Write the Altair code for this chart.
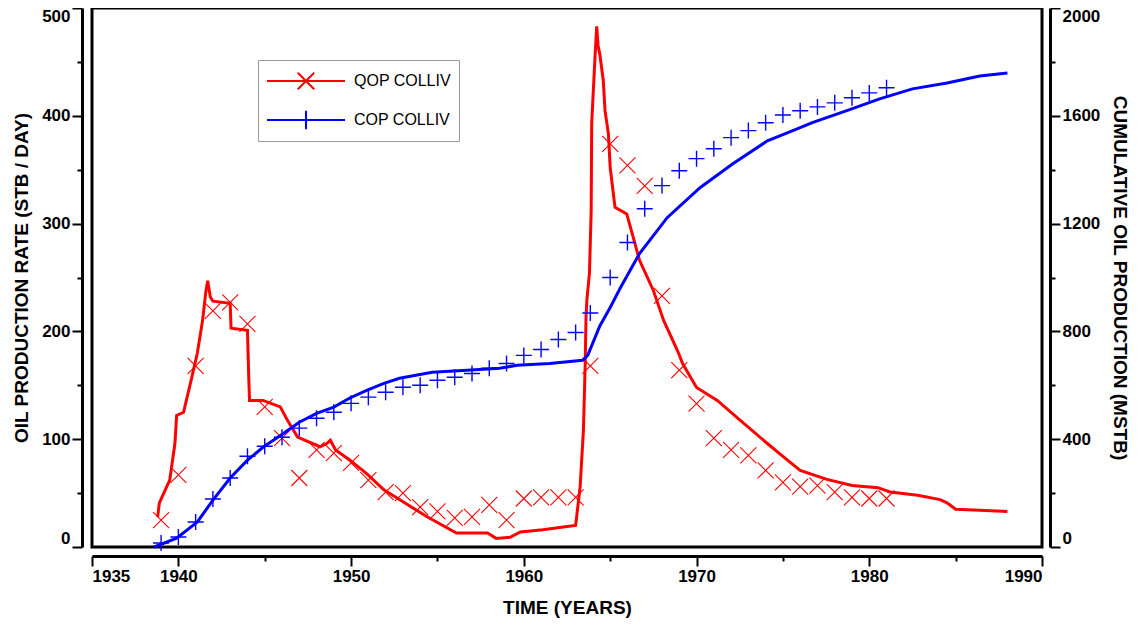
import altair as alt
import pandas as pd

# ---------------- data ----------------
# Simulated oil production rate (red line), STB/day
QOP_SIM_YEAR = [1938.8, 1938.9, 1939.5, 1939.8, 1939.9, 1940.3, 1940.7, 1941.1, 1941.4, 1941.6,
                1941.7, 1941.85, 1942.0, 1943.0, 1943.05, 1944.0, 1944.08, 1944.12, 1944.9, 1945.9,
                1946.3, 1946.9, 1948.2, 1948.6, 1948.8, 1949.1, 1949.9, 1950.9, 1951.9, 1952.8,
                1954.4, 1956.1, 1957.9, 1958.4, 1959.2, 1959.8, 1961.1, 1962.5, 1963.0, 1963.26,
                1963.45, 1963.55, 1963.6, 1963.65, 1963.8, 1963.9, 1963.93, 1964.03, 1964.12, 1964.22,
                1964.3, 1964.4, 1964.6, 1964.7, 1964.9, 1965.0, 1965.28, 1965.96, 1966.7, 1967.5,
                1968.1, 1968.9, 1969.2, 1970.0, 1971.2, 1972.5, 1974.1, 1975.0, 1976.0, 1977.5,
                1979.0, 1980.5, 1981.2, 1982.8, 1984.1, 1984.5, 1985.0, 1986.4, 1988.0]
QOP_SIM_RATE = [28, 41, 62, 96, 122, 125, 152, 180, 210, 238,
                247, 232, 228, 226, 203, 201, 155, 136, 136, 130,
                118, 102, 93, 96, 99, 90, 81, 68, 53, 44,
                28, 13, 13, 8, 9, 14, 16, 19, 20, 56,
                108, 167, 213, 229, 254, 312, 393, 425, 454, 483,
                465, 457, 433, 405, 383, 352, 315, 309, 266, 238,
                210, 182, 170, 148, 136, 118, 96, 84, 71, 63,
                57, 55, 51, 48, 44, 41, 35, 34, 33]

# Observed oil production rate (red X markers)
QOP_OBS_YEAR = [1939, 1940, 1941, 1942, 1943, 1944, 1945, 1946, 1947, 1948,
                1949, 1950, 1951, 1952, 1953, 1954, 1955, 1956, 1957, 1958,
                1959, 1960, 1961, 1962, 1963, 1963.85, 1965, 1966, 1967, 1968,
                1969, 1970, 1971, 1972, 1973, 1974, 1975, 1976, 1977, 1978,
                1979, 1980, 1981]
QOP_OBS_RATE = [25, 67, 168, 219, 227, 207, 130, 101, 64, 90,
                87, 78, 62, 51, 50, 37, 33, 27, 28, 39,
                25, 45, 46, 46, 46, 168, 374, 354, 335, 233,
                164, 133, 101, 90, 85, 71, 60, 56, 57, 51,
                46, 45, 45]

# Simulated cumulative oil production (blue line), MSTB
COP_SIM_YEAR = [1938.6, 1939.9, 1941.1, 1942.0, 1943.0, 1944.0, 1944.9, 1946.1, 1947.0, 1948.0,
                1949.0, 1949.9, 1950.9, 1951.9, 1952.8, 1954.7, 1956.7, 1958.6, 1959.6, 1961.5,
                1963.4, 1963.7, 1964.4, 1965.0, 1965.6, 1966.7, 1968.3, 1970.2, 1972.1, 1974.1,
                1975.0, 1976.0, 1976.7, 1978.7, 1980.6, 1982.5, 1984.5, 1986.4, 1988.0]
COP_SIM_CUM = [0, 33, 93, 174, 256, 322, 370, 422, 463, 496,
               519, 552, 581, 607, 626, 648, 656, 663, 674, 681,
               693, 711, 820, 889, 963, 1089, 1222, 1333, 1422, 1507,
               1530, 1556, 1575, 1619, 1663, 1700, 1722, 1748, 1759]

# Observed cumulative oil production (blue + markers)
COP_OBS_YEAR = QOP_OBS_YEAR
COP_OBS_CUM = [15, 37, 93, 178, 256, 337, 374, 407, 441, 478,
               500, 533, 556, 574, 593, 600, 619, 630, 644, 663,
               681, 711, 733, 770, 796, 868, 1000, 1130, 1255, 1341,
               1396, 1441, 1478, 1519, 1545, 1574, 1603, 1619, 1633, 1648,
               1667, 1685, 1704]

SERIES = ["QOP COLLIV", "COP COLLIV"]
COLORS = ["#ff0000", "#0000ff"]

X_TICKS = [1935, 1940, 1945, 1950, 1955, 1960, 1965, 1970, 1975, 1980, 1985, 1990]
X_LABELED = [1935, 1940, 1950, 1960, 1970, 1980, 1990]
YL_TICKS = [0, 50, 100, 150, 200, 250, 300, 350, 400, 450, 500]
YL_LABELED = [0, 100, 200, 300, 400, 500]
YR_TICKS = [0, 200, 400, 600, 800, 1000, 1200, 1400, 1600, 1800, 2000]
YR_LABELED = [0, 400, 800, 1200, 1600, 2000]

# ---------------- tables ----------------
qop_sim = pd.DataFrame({"year": QOP_SIM_YEAR, "rate": QOP_SIM_RATE})
qop_obs = pd.DataFrame({"year": QOP_OBS_YEAR, "rate": QOP_OBS_RATE, "series": SERIES[0]})
cop_sim = pd.DataFrame({"year": COP_SIM_YEAR, "cum": COP_SIM_CUM})
cop_obs = pd.DataFrame({"year": COP_OBS_YEAR, "cum": COP_OBS_CUM})

FONT = "Liberation Sans"

X_PATH = "M-1,-1L1,1M-1,1L1,-1"
PLUS_PATH = "M-1,0L1,0M0,-1L0,1"
LEG_X = "M-1,0L1,0M-0.21,-0.21L0.21,0.21M-0.21,0.21L0.21,-0.21"
LEG_PLUS = "M-1,0L1,0M0,-0.24L0,0.24"


def test(lst):
    return "indexof([" + ",".join(str(v) for v in lst) + "], datum.value) >= 0"


def make_axis(ticks, labeled, orient, offset, title, title_pad):
    return alt.Axis(
        orient=orient,
        values=ticks,
        format="d",
        labelExpr=test(labeled) + " ? datum.label : ''",
        labelOverlap=False,
        labelFlush=True,
        labelFont=FONT,
        labelFontSize=17,
        labelFontWeight="bold",
        labelColor="black",
        labelPadding=2,
        tickSize={"condition": {"test": test(labeled), "value": 10}, "value": 5},
        tickWidth=2,
        tickColor="black",
        domainColor="black",
        domainWidth=3,
        offset=offset,
        grid=False,
        title=title,
        titleFont=FONT,
        titleFontSize=19,
        titleFontWeight="bold",
        titleColor="black",
        titlePadding=title_pad,
    )


x_enc = alt.X(
    "year:Q",
    scale=alt.Scale(domain=[1935, 1990], nice=False, zero=False),
    axis=make_axis(X_TICKS, X_LABELED, "bottom", 9, "TIME (YEARS)", 14),
)
y_rate = alt.Y(
    "rate:Q",
    scale=alt.Scale(domain=[0, 500], nice=False),
    axis=make_axis(YL_TICKS, YL_LABELED, "left", 10, "OIL PRODUCTION RATE (STB / DAY)", 10),
)
y_cum = alt.Y(
    "cum:Q",
    scale=alt.Scale(domain=[0, 2000], nice=False),
    axis=make_axis(YR_TICKS, YR_LABELED, "right", 8, "CUMULATIVE OIL PRODUCTION (MSTB)", 10),
)

red_line = alt.Chart(qop_sim).mark_line(color=COLORS[0], strokeWidth=3).encode(x=x_enc, y=y_rate)
red_pts = alt.Chart(qop_obs).mark_point(
    shape=X_PATH, size=256, filled=False, color=COLORS[0], strokeWidth=1.1, opacity=1
).encode(x=x_enc, y=y_rate)

legend = alt.Legend(
    title=None,
    orient="none",
    legendX=166,
    legendY=52,
    padding=8,
    clipHeight=26,
    rowPadding=13,
    symbolSize=6084,
    symbolStrokeWidth=2,
    symbolOpacity=1,
    labelFont=FONT,
    labelFontSize=16,
    labelColor="black",
    labelOffset=8,
    strokeColor="#9a9a9a",
    fillColor="white",
)
legend_layer = alt.Chart(qop_obs).mark_point(filled=False, size=256).encode(
    x=x_enc,
    y=y_rate,
    color=alt.Color("series:N", scale=alt.Scale(domain=SERIES, range=COLORS), legend=legend),
    shape=alt.Shape("series:N", scale=alt.Scale(domain=SERIES, range=[LEG_X, LEG_PLUS]), legend=legend),
    opacity=alt.value(0),
)

blue_line = alt.Chart(cop_sim).mark_line(color=COLORS[1], strokeWidth=3).encode(x=x_enc, y=y_cum)
blue_pts = alt.Chart(cop_obs).mark_point(
    shape=PLUS_PATH, size=256, filled=False, color=COLORS[1], strokeWidth=1.4, opacity=1
).encode(x=x_enc, y=y_cum)

rate_group = alt.layer(red_line, red_pts, legend_layer)
cum_group = alt.layer(blue_line, blue_pts)

chart = (
    alt.layer(rate_group, cum_group)
    .resolve_scale(y="independent")
    .properties(
        width=950,
        height=539,
        padding={"left": 84, "top": 0, "right": 93, "bottom": 74},
        autosize=alt.AutoSizeParams(type="none"),
        background="white",
    )
    .configure_view(stroke="black", strokeWidth=3)
)

chart.save("out.html", embed_options={"renderer": "svg", "actions": False})
